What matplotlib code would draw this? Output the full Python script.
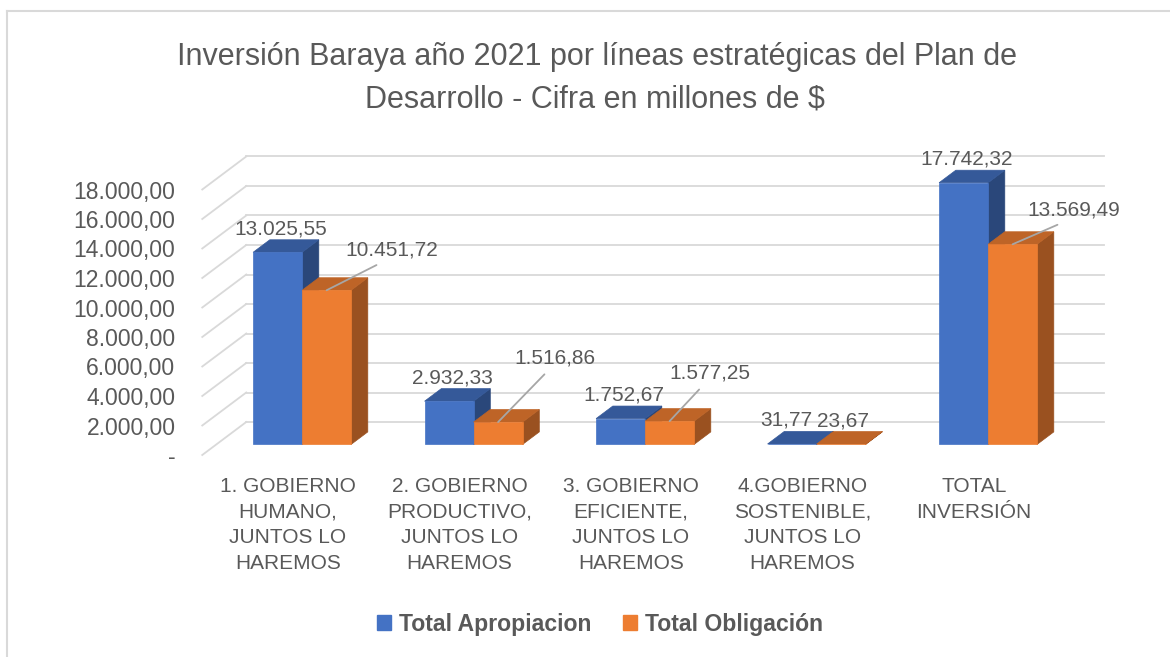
import matplotlib
matplotlib.use("Agg")
import matplotlib.pyplot as plt
from matplotlib.patches import Polygon, Patch

categories = [
    "1. GOBIERNO\nHUMANO,\nJUNTOS LO\nHAREMOS",
    "2. GOBIERNO\nPRODUCTIVO,\nJUNTOS LO\nHAREMOS",
    "3. GOBIERNO\nEFICIENTE,\nJUNTOS LO\nHAREMOS",
    "4.GOBIERNO\nSOSTENIBLE,\nJUNTOS LO\nHAREMOS",
    "TOTAL\nINVERSIÓN",
]
apropiacion = [13025.55, 2932.33, 1752.67, 31.77, 17742.32]
obligacion = [10451.72, 1516.86, 1577.25, 23.67, 13569.49]
series_names = ["Total Apropiacion", "Total Obligación"]
yticks = list(range(0, 18001, 2000))

# label placement (pixels from bar top, set by hand in excel)
blue_label_off = [(3, 23.5), (3, 23.5), (3, 23.5), (-6, 23.5), (3, 23.5)]
orange_label_off = [(65, 40), (57, 64), (40, 48), (2, 23.5), (61, 34)]
orange_leader = [True, True, True, False, True]

plt.rcParams["font.family"] = ["Liberation Sans", "DejaVu Sans"]

GREY = "#595959"
GRID = "#d9d9d9"
BLUE = ("#4472c4", "#355999", "#2a477a")      # front, top, side
ORANGE = ("#ed7d31", "#be6427", "#9a5120")


def es_num(v):
    s = f"{v:,.2f}"
    return s.replace(",", "X").replace(".", ",").replace("X", ".")


W, H = 1170, 657
fig = plt.figure(figsize=(W / 100, H / 100), dpi=100)

# pixel mapping of the front plane: x_px = 288 + 171.5*x, y_px = 455 - 0.01475*v
XL, XR = -0.6, 4.85
YB, YT = -300, 21500
px_l, px_r = 288 + 171.5 * XL, 288 + 171.5 * XR
py_b, py_t = 455 - 0.01475 * YB, 455 - 0.01475 * YT
ax = fig.add_axes([px_l / W, 1 - py_b / H, (px_r - px_l) / W, (py_b - py_t) / H])
ax.set_xlim(XL, XR)
ax.set_ylim(YB, YT)
for s in ax.spines.values():
    s.set_visible(False)

# depth of the 3d box (x units, value units)
DX = 44 / 171.5
DY = 33 / 0.01475
f0, f1 = 0.32, 0.70
bw = 49 / 171.5

# back wall grid + side wall diagonals
for v in yticks:
    ax.plot([-0.5 + DX, 4.5 + DX], [v + DY, v + DY], color=GRID, lw=1.3, zorder=1)
    ax.plot([-0.5, -0.5 + DX], [v, v + DY], color=GRID, lw=1.3, zorder=1)


def bar3d(x0, h, cols, z):
    x1 = x0 + bw
    ddx = (f1 - f0) * DX
    ddy = (f1 - f0) * DY
    y0 = f0 * DY
    side = [(x1, y0), (x1 + ddx, y0 + ddy), (x1 + ddx, y0 + ddy + h), (x1, y0 + h)]
    top = [(x0, y0 + h), (x1, y0 + h), (x1 + ddx, y0 + h + ddy), (x0 + ddx, y0 + h + ddy)]
    front = [(x0, y0), (x1, y0), (x1, y0 + h), (x0, y0 + h)]
    ax.add_patch(Polygon(side, closed=True, fc=cols[2], ec=cols[2], lw=0.5, zorder=z))
    ax.add_patch(Polygon(top, closed=True, fc=cols[1], ec=cols[1], lw=0.5, zorder=z))
    ax.add_patch(Polygon(front, closed=True, fc=cols[0], ec=cols[0], lw=0.5, zorder=z))
    return (x0 + x1) / 2, y0 + h


LBL = 15
for i in range(len(categories)):
    c = i + f0 * DX
    z = 3 + i * 2
    bx, by = bar3d(c - bw, apropiacion[i], BLUE, z)
    ax.annotate(es_num(apropiacion[i]), (bx, by), xytext=blue_label_off[i],
                textcoords="offset pixels", ha="center", va="center",
                fontsize=LBL, color=GREY, zorder=20)
    ox, oy = bar3d(c, obligacion[i], ORANGE, z + 1)
    if orange_leader[i]:
        ax.annotate(es_num(obligacion[i]), (ox, oy), xytext=orange_label_off[i],
                    textcoords="offset pixels", ha="center", va="center",
                    fontsize=LBL, color=GREY, zorder=20,
                    arrowprops=dict(arrowstyle="-", color="#a6a6a6", lw=1.3,
                                    relpos=(0.45, 0.0), shrinkA=4, shrinkB=0))
    else:
        ax.annotate(es_num(obligacion[i]), (ox, oy), xytext=orange_label_off[i],
                    textcoords="offset pixels", ha="center", va="center",
                    fontsize=LBL, color=GREY, zorder=20)

ax.set_yticks(yticks)
ax.set_yticklabels(["-" if v == 0 else es_num(v) for v in yticks])
ax.set_xticks(range(len(categories)))
ax.set_xticklabels(categories, linespacing=1.45)
ax.tick_params(axis="y", length=0, pad=7, labelsize=16.5, labelcolor=GREY)
ax.tick_params(axis="x", length=0, pad=12.5, labelsize=15, labelcolor=GREY)

# title
fig.text(597 / W, 1 - 65 / H, "Inversión Baraya año 2021 por líneas estratégicas del Plan de",
         ha="center", va="baseline", fontsize=22, color=GREY)
fig.text(595 / W, 1 - 107 / H, "Desarrollo - Cifra en millones de $",
         ha="center", va="baseline", fontsize=22, color=GREY)

handles = [Patch(fc=BLUE[0], ec=BLUE[0]), Patch(fc=ORANGE[0], ec=ORANGE[0])]
fig.legend(handles, series_names, loc="center", bbox_to_anchor=(600 / W, 1 - 624 / H),
           ncol=2, frameon=False, handlelength=0.6, handleheight=0.6,
           handletextpad=0.35, columnspacing=1.4,
           prop=dict(family=["Liberation Sans", "DejaVu Sans"], weight="bold", size=16.6),
           labelcolor=GREY)

# chart border
fig.add_artist(plt.Line2D([7 / W, 7 / W], [0, 1 - 10.5 / H], color="#d9d9d9", lw=1.5))
fig.add_artist(plt.Line2D([7 / W, 1], [1 - 10.5 / H, 1 - 10.5 / H], color="#d9d9d9", lw=1.5))

fig.savefig("out.png", dpi=100, facecolor="white")
